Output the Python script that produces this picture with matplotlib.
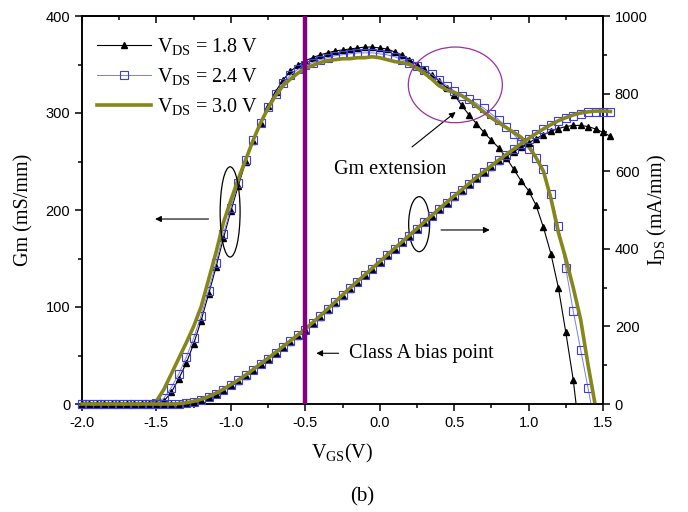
import numpy as np
import matplotlib
matplotlib.use('Agg')
import matplotlib.pyplot as plt
from matplotlib.patches import Ellipse
from matplotlib.lines import Line2D
from matplotlib.ticker import MultipleLocator, FormatStrFormatter

plt.rcParams['font.family'] = ['Liberation Serif', 'DejaVu Serif']
plt.rcParams['mathtext.fontset'] = 'custom'
plt.rcParams['mathtext.rm'] = 'Liberation Serif'
plt.rcParams['mathtext.it'] = 'Liberation Serif:italic'
plt.rcParams['mathtext.bf'] = 'Liberation Serif:bold'
plt.rcParams['axes.unicode_minus'] = False

nan = np.nan

# ---------------- data ----------------
vgs = [-2.00, -1.95, -1.90, -1.85, -1.80, -1.75, -1.70, -1.65, -1.60, -1.55,
       -1.50, -1.45, -1.40, -1.35, -1.30, -1.25, -1.20, -1.15, -1.10, -1.05,
       -1.00, -0.95, -0.90, -0.85, -0.80, -0.75, -0.70, -0.65, -0.60, -0.55,
       -0.50, -0.45, -0.40, -0.35, -0.30, -0.25, -0.20, -0.15, -0.10, -0.05,
       0.00, 0.05, 0.10, 0.15, 0.20, 0.25, 0.30, 0.35, 0.40, 0.45,
       0.50, 0.55, 0.60, 0.65, 0.70, 0.75, 0.80, 0.85, 0.90, 0.95,
       1.00, 1.05, 1.10, 1.15, 1.20, 1.25, 1.30, 1.35, 1.40, 1.45,
       1.50, 1.55]

# Gm (mS/mm), left axis
gm_18 = [0, 0, 0, 0, 0, 0, 0, 0, 0, 0,
         0, 3, 12, 26, 42, 62, 86, 113, 141, 171,
         199, 225, 250, 271, 290, 307, 322, 334, 343, 349,
         354, 357, 360, 362, 364, 365, 366, 367, 368, 368,
         367, 366, 363, 360, 355, 350, 345, 339, 333, 326,
         319, 308, 298, 289, 280, 272, 264, 254, 242, 230,
         220, 205, 182, 155, 120, 74, 25, -40, nan, nan,
         nan, nan]
gm_24 = [0, 0, 0, 0, 0, 0, 0, 0, 0, 0,
         1, 6, 17, 31, 48, 68, 91, 117, 145, 175,
         202, 228, 252, 272, 290, 306, 320, 331, 339, 345,
         349, 352, 355, 357, 359, 360, 361, 362, 362, 362,
         361, 360, 358, 355, 352, 348, 344, 340, 334, 328,
         323, 318, 314, 310, 305, 299, 293, 286, 278, 270,
         263, 254, 242, 216, 184, 140, 96, 56, 16, -25,
         nan, nan]
gm_30 = [0, 0, 0, 0, 0, 0, 0, 0, 0, 0,
         3, 15, 31, 47, 63, 80, 100, 128, 156, 187,
         210, 232, 252, 272, 290, 305, 318, 328, 335, 341,
         346, 349, 352, 354, 355, 356, 356, 357, 357, 358,
         357, 355, 353, 352, 350, 346, 341, 335, 328, 324,
         321, 318, 313, 307, 301, 295, 290, 285, 280, 275,
         266, 254, 240, 212, 177, 150, 120, 87, 40, -3,
         nan, nan]

# IDS (mA/mm), right axis
ids_18 = [0, 0, 0, 0, 0, 0, 0, 0, 0, 0,
          0, 0, 0, 1, 2, 5, 10, 17, 26, 36,
          48, 60, 73, 87, 102, 116, 131, 146, 161, 176,
          191, 208, 225, 243, 261, 279, 297, 315, 332, 349,
          366, 383, 400, 417, 434, 451, 468, 485, 502, 518,
          534, 550, 566, 582, 597, 612, 626, 638, 650, 662,
          673, 684, 694, 703, 710, 715, 718, 718, 715, 709,
          700, 690]
ids_24 = [0, 0, 0, 0, 0, 0, 0, 0, 0, 0,
          0, 0, 0, 1, 3, 6, 11, 18, 27, 37,
          49, 61, 74, 88, 103, 117, 132, 147, 162, 177,
          192, 209, 226, 244, 262, 280, 298, 315, 332, 349,
          366, 383, 400, 417, 434, 451, 468, 485, 502, 519,
          535, 551, 567, 583, 598, 613, 628, 642, 656, 670,
          683, 696, 708, 719, 729, 737, 743, 748, 752, 753,
          753, 753]
ids_30 = [0, 0, 0, 0, 0, 0, 0, 0, 0, 0,
          0, 0, 0, 1, 3, 7, 12, 19, 28, 38,
          50, 62, 75, 89, 104, 118, 133, 148, 163, 178,
          193, 210, 227, 245, 263, 281, 299, 316, 333, 350,
          367, 384, 401, 418, 435, 452, 469, 486, 503, 520,
          536, 552, 568, 584, 599, 614, 629, 643, 657, 671,
          684, 697, 709, 720, 730, 738, 745, 750, 753, 755,
          755, 754]

labels = [r'V$_{\mathrm{DS}}$ = 1.8 V', r'V$_{\mathrm{DS}}$ = 2.4 V', r'V$_{\mathrm{DS}}$ = 3.0 V']

x_ticks = [-2.0, -1.5, -1.0, -0.5, 0.0, 0.5, 1.0, 1.5]
gm_ticks = [0, 100, 200, 300, 400]
ids_ticks = [0, 200, 400, 600, 800, 1000]
bias_v = -0.5

# ---------------- styles ----------------
OLIVE = '#86861a'
BLUE_LINE = '#7a7af5'
BLUE_MK = '#3c3ce6'
PURPLE = '#800080'

fig = plt.figure(figsize=(6.88, 5.12), dpi=100)
ax = fig.add_axes([82/688, 1-404/512, 521/688, 388/512])
ax2 = ax.twinx()

v = np.array(vgs, dtype=float)

def draw(axis, y, kind, clip_line):
    y = np.array(y, dtype=float)
    ok = ~np.isnan(y) & (y >= 0)
    if kind == '18':
        axis.plot(v, y, color='black', lw=0.8, zorder=2, clip_on=clip_line)
        axis.plot(v[ok], y[ok], ls='none', marker='^', ms=4.5, color='black',
                  zorder=2, clip_on=False)
    elif kind == '24':
        axis.plot(v, y, color=BLUE_LINE, lw=0.7, zorder=3, clip_on=clip_line)
        axis.plot(v[ok], y[ok], ls='none', marker='s', ms=5.5, mfc='none',
                  mec=BLUE_MK, mew=0.8, zorder=3, clip_on=False)
    else:
        axis.plot(v, y, color=OLIVE, lw=2.6, zorder=4, clip_on=clip_line,
                  solid_joinstyle='round')

draw(ax, gm_18, '18', True)
draw(ax, gm_24, '24', True)
draw(ax, gm_30, '30', True)
draw(ax2, ids_18, '18', False)
draw(ax2, ids_24, '24', False)
draw(ax2, ids_30, '30', False)

ax2.axvline(bias_v, color=PURPLE, lw=3.2, zorder=6)

# axes limits and ticks
ax.set_xlim(-2.0, 1.5)
ax.set_ylim(0, 400)
ax2.set_ylim(0, 1000)
ax.set_xticks(x_ticks)
ax.xaxis.set_major_formatter(FormatStrFormatter('%.1f'))
ax.xaxis.set_minor_locator(MultipleLocator(0.25))
ax.set_yticks(gm_ticks)
ax.yaxis.set_minor_locator(MultipleLocator(50))
ax2.set_yticks(ids_ticks)
ax2.yaxis.set_minor_locator(MultipleLocator(100))

for a in (ax, ax2):
    for s in a.spines.values():
        s.set_linewidth(1.1)
ax.tick_params(axis='both', which='major', direction='out', length=5, width=1.1,
               labelsize=10.5, labelfontfamily='Liberation Sans', pad=3.5)
ax.tick_params(axis='both', which='minor', direction='out', length=3, width=1.1)
ax.tick_params(axis='y', which='both', right=False)
ax2.tick_params(axis='y', which='major', direction='out', length=5, width=1.1,
                labelsize=10.5, labelfontfamily='Liberation Sans', pad=3.5)
ax2.tick_params(axis='y', which='minor', direction='out', length=3, width=1.1)

sec = ax.secondary_xaxis('top')
sec.set_xticks(x_ticks)
sec.xaxis.set_minor_locator(MultipleLocator(0.25))
sec.tick_params(axis='x', which='major', direction='in', length=5, width=1.1, labeltop=False)
sec.tick_params(axis='x', which='minor', direction='in', length=3, width=1.1)
sec.spines['top'].set_linewidth(1.1)

# axis labels
ax.set_ylabel('Gm (mS/mm)', fontsize=14.5, va='center', ha='center')
ax.yaxis.set_label_coords(-0.111, 0.5)
ax2.set_ylabel(r'I$_{\mathrm{DS}}$ (mA/mm)', fontsize=14.5, va='center', ha='center', rotation=90)
ax2.yaxis.set_label_coords(1.104, 0.5)
ax.set_xlabel(r'V$_{\mathrm{GS}}$(V)', fontsize=14.5, va='center', ha='center')
ax.xaxis.set_label_coords(0.5, -0.127)
fig.text(362/688, 1-497/512, '(b)', ha='center', va='center', fontsize=15)

# legend
handles = [
    Line2D([], [], color='black', lw=0.8, marker='^', ms=4.5),
    Line2D([], [], color=BLUE_LINE, lw=0.7, marker='s', ms=5.5, mfc='none', mec=BLUE_MK, mew=0.8),
    Line2D([], [], color=OLIVE, lw=2.6),
]
ax.legend(handles, labels, loc='upper left', bbox_to_anchor=(0.028, 0.948),
          frameon=False, fontsize=14.5, handlelength=2.7, handletextpad=0.3,
          labelspacing=0.45, borderpad=0, borderaxespad=0, numpoints=1)

# annotations
ax.add_patch(Ellipse((0.508, 329), 0.632, 78, fill=False, ec='#9b309b', lw=0.9, zorder=7))
ax.add_patch(Ellipse((-1.005, 198), 0.134, 93, fill=False, ec='black', lw=0.9, zorder=7))
ax.add_patch(Ellipse((0.265, 185.4), 0.141, 56.7, fill=False, ec='black', lw=0.9, zorder=7))

arr = dict(arrowstyle='-|>', color='black', lw=0.8, mutation_scale=9, shrinkA=0, shrinkB=0)
ax.annotate('', xy=(0.51, 301), xytext=(0.217, 265), arrowprops=arr)
ax.annotate('', xy=(-1.509, 190.7), xytext=(-1.15, 190.7), arrowprops=arr)
ax.annotate('', xy=(0.739, 179.4), xytext=(0.412, 179.4), arrowprops=arr)
ax.annotate('', xy=(-0.426, 52.3), xytext=(-0.276, 52.3), arrowprops=arr)

ax.text(0.071, 242, 'Gm extension', fontsize=14.5, ha='center', va='center')
ax.text(-0.209, 52.3, 'Class A bias point', fontsize=14.5, ha='left', va='center')

fig.savefig('out.png', dpi=100)
